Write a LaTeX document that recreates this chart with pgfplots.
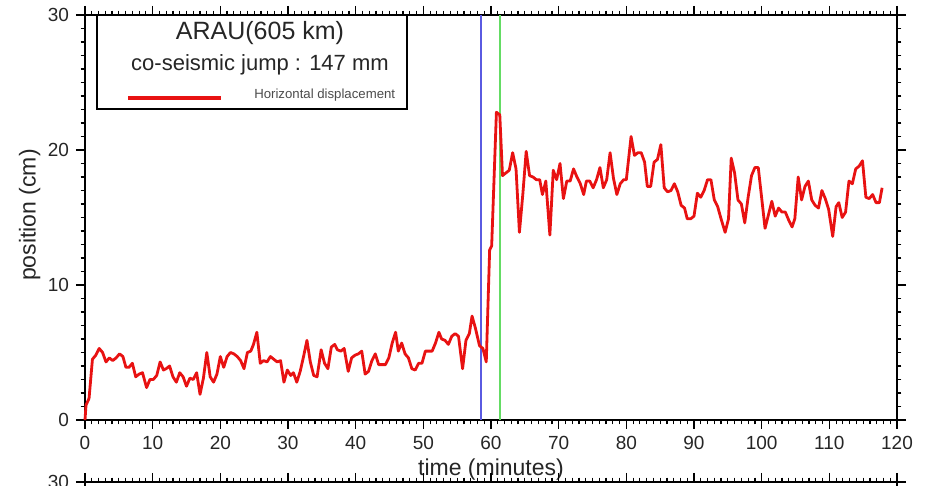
\documentclass[border=0pt]{standalone}
\usepackage{fontspec}
\setmainfont{Liberation Sans}
\usepackage{pgfplots}
\usepackage{pgfplotstable}
\pgfplotsset{compat=1.18}

\definecolor{dispred}{RGB}{232,18,18}
\definecolor{evblue}{RGB}{90,90,225}
\definecolor{evgreen}{RGB}{100,220,100}

% ARAU horizontal displacement, time in minutes, position in cm
\pgfplotstableread{
t d
0 0
0.15 1.1
0.6 1.6
1.1 4.5
1.6 4.8
2.1 5.3
2.6 5.0
3.1 4.3
3.6 4.6
4.1 4.4
4.6 4.6
5.1 4.9
5.6 4.7
6.05 3.9
6.5 3.9
7.0 4.2
7.5 3.2
8.0 3.4
8.5 3.5
9.1 2.4
9.6 3.0
10.1 3.0
10.6 3.3
11.1 4.3
11.6 3.7
12.0 3.8
12.5 4.0
13.0 3.2
13.5 2.8
14.0 3.5
14.5 3.2
15.0 2.5
15.5 3.1
16.0 3.0
16.5 3.5
17.0 1.9
17.5 3.1
18.0 5.0
18.5 3.2
19.0 2.8
19.5 3.4
20.0 4.7
20.5 3.9
21.0 4.7
21.5 5.0
22.0 4.9
22.5 4.7
23.0 4.4
23.5 3.8
24.0 5.0
24.5 5.1
24.9 5.6
25.4 6.5
25.9 4.2
26.4 4.4
26.9 4.3
27.4 4.7
27.9 4.5
28.4 4.3
28.9 4.4
29.4 2.8
29.9 3.7
30.4 3.3
30.8 3.5
31.3 2.8
31.8 3.6
32.3 4.7
32.8 5.9
33.3 4.3
33.8 3.3
34.3 3.2
34.9 5.2
35.4 4.2
35.9 3.8
36.4 5.4
36.9 5.6
37.3 5.2
37.8 5.1
38.3 5.3
38.9 3.6
39.4 4.6
39.9 4.8
40.4 4.9
40.9 5.1
41.4 3.4
41.9 3.6
42.4 4.4
42.9 4.9
43.4 4.1
43.9 4.1
44.4 4.1
44.9 4.6
45.4 5.7
45.9 6.5
46.3 5.1
46.8 5.7
47.3 4.9
47.8 4.6
48.3 3.8
48.8 3.7
49.3 4.2
49.8 4.2
50.3 5.1
50.8 5.1
51.3 5.1
51.8 5.7
52.3 6.5
52.7 6.0
53.2 5.9
53.7 5.6
54.2 6.2
54.7 6.4
55.2 6.2
55.8 3.8
56.3 5.9
56.8 6.4
57.2 7.7
57.7 6.8
58.3 5.5
58.8 5.3
59.3 4.3
59.8 12.6
60.1 12.9
60.8 22.8
61.3 22.6
61.7 18.1
62.2 18.3
62.7 18.5
63.2 19.8
63.7 18.6
64.2 13.9
64.7 16.7
65.2 19.9
65.7 18.1
66.2 18.0
66.7 17.8
67.2 17.8
67.6 16.7
68.1 17.7
68.7 13.7
69.2 18.5
69.7 17.8
70.2 19.0
70.7 16.4
71.2 17.7
71.7 17.7
72.2 18.6
72.7 18.0
73.2 17.5
73.7 16.7
74.1 17.7
74.6 17.7
75.1 17.2
75.6 17.8
76.1 18.7
76.6 17.2
77.1 17.8
77.6 19.8
78.1 17.9
78.6 16.7
79.1 17.5
79.6 17.8
80.0 17.8
80.7 21.0
81.2 19.6
81.7 19.8
82.2 19.8
82.7 19.1
83.1 17.3
83.6 17.3
84.1 19.1
84.6 19.3
85.1 20.4
85.6 17.2
86.1 16.9
86.6 17.0
87.1 17.5
87.6 16.9
88.1 15.9
88.6 15.7
89.0 14.9
89.5 14.9
90.0 15.1
90.5 16.8
91.0 16.5
91.5 17.0
92.0 17.8
92.5 17.8
93.0 16.3
93.5 15.8
94.0 14.9
94.6 13.9
95.1 14.9
95.5 19.4
96.0 18.3
96.5 16.3
97.0 16.0
97.5 14.6
98.0 16.5
98.5 18.1
99.0 18.7
99.5 18.7
100.5 14.2
101.0 15.2
101.5 16.2
102.0 15.1
102.5 15.7
103.0 15.4
103.5 15.4
104.0 14.8
104.5 14.3
104.9 14.9
105.4 18.0
105.9 16.3
106.4 17.3
106.9 17.7
107.4 16.3
107.9 15.9
108.4 15.7
108.9 17.0
109.4 16.4
109.9 15.6
110.5 13.6
111.0 15.8
111.4 16.1
111.9 15.0
112.4 15.4
112.9 17.7
113.4 17.5
113.9 18.6
114.4 18.8
114.9 19.2
115.4 16.5
115.9 16.4
116.4 16.7
116.9 16.1
117.4 16.1
117.8 17.2
}\arau

\pgfplotsset{
  gpsaxis/.style={
    scale only axis,
    width=406pt, height=202.5pt,
    xmin=0, xmax=120, ymin=0, ymax=30,
    xtick={0,10,...,120}, ytick={0,10,20,30},
    minor x tick num=9, minor y tick num=9,
    tick align=outside, tick pos=both,
    xticklabel pos=lower, yticklabel pos=left,
    major tick length=4.5pt, minor tick length=2.2pt,
    axis line style={line width=1pt},
    every tick/.style={black, line width=0.6pt},
    tick label style={font=\fontsize{9.5}{11}\selectfont, text=black!85},
    /pgf/number format/assume math mode=true,
    clip=false,
  },
}

\begin{document}
\begin{tikzpicture}
\begin{axis}[gpsaxis, name=main, at={(0,0)}, anchor=south west,
    xlabel={time (minutes)}, ylabel={position (cm)},
    label style={font=\fontsize{11.5}{13}\selectfont, text=black!85},
    xlabel style={at={(axis description cs:0.5,-0.123)}, anchor=center},
    ylabel style={at={(axis description cs:-0.068,0.506)}, anchor=center},
  ]
  % event markers
  \addplot[evblue, line width=1pt] coordinates {(58.45,0) (58.45,30)};
  \addplot[evgreen, line width=1pt] coordinates {(61.4,0) (61.4,30)};
  % displacement series
  \addplot[dispred, line width=1.4pt, line join=round] table[x=t, y=d] {\arau};

  % legend box
  \draw[line width=1pt, fill=white] (rel axis cs:0.0148,0.768) rectangle (rel axis cs:0.3965,1.0);
  \node[font=\fontsize{12.5}{14}\selectfont, text=black!85] at (rel axis cs:0.2155,0.9556) {ARAU(605 km)};
  \node[font=\fontsize{11}{13}\selectfont, text=black!85] at (rel axis cs:0.2155,0.8765) {co-seismic jump : 147 mm};
  \draw[dispred, line width=2.4pt] (rel axis cs:0.053,0.795) -- (rel axis cs:0.1675,0.795);
  \node[font=\fontsize{6.6}{8}\selectfont, text=black!70, anchor=west, inner sep=0pt] at (rel axis cs:0.208,0.803) {Horizontal displacement};
\end{axis}

% top edge of the next panel
\begin{axis}[gpsaxis, at={(0,-31pt)}, anchor=north west, xticklabels={}]
\end{axis}

\pgfresetboundingbox
\path[use as bounding box] (-42.5pt,-33pt) rectangle (421.5pt,210pt);
\end{tikzpicture}
\end{document}
